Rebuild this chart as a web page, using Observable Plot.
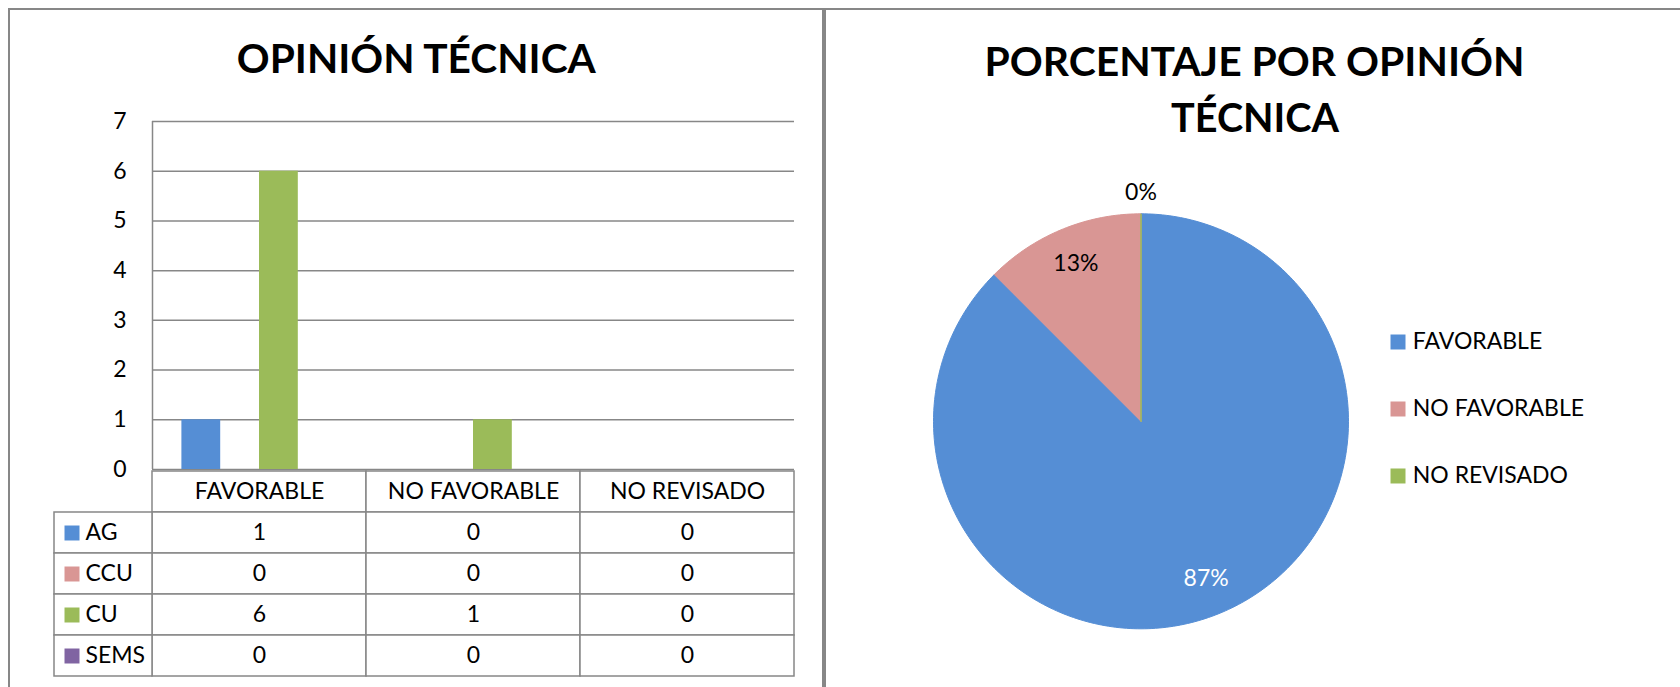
<!DOCTYPE html>
<html><head><meta charset="utf-8">
<script src="https://cdn.jsdelivr.net/npm/d3@7"></script>
<script src="https://cdn.jsdelivr.net/npm/@observablehq/plot@0.6"></script>
<style>
html,body{margin:0;padding:0;background:#fff;}
#root{position:relative;width:1680px;height:687px;overflow:hidden;background:#fff;font-family:Lato,"Open Sans",sans-serif;}
.abs{position:absolute;}
.abs svg{display:block;overflow:visible;max-width:none;}
.panel{position:absolute;border-color:#878787;border-style:solid;box-sizing:border-box;}
</style></head><body><div id="root"></div>
<script>
// ---------- data ----------
const categories = ["FAVORABLE", "NO FAVORABLE", "NO REVISADO"];
const seriesNames = ["AG", "CCU", "CU", "SEMS"];
const seriesColors = ["#558ED5", "#D99694", "#9BBB59", "#8064A2"];
const valuesAG = [1, 0, 0];
const valuesCCU = [0, 0, 0];
const valuesCU = [6, 1, 0];
const valuesSEMS = [0, 0, 0];
const yTicks = [0, 1, 2, 3, 4, 5, 6, 7];
const pieLabels = ["FAVORABLE", "NO FAVORABLE", "NO REVISADO"];
const pieValues = [7, 1, 0];
const piePercentLabels = ["87%", "13%", "0%"];
const pieColors = ["#558ED5", "#D99694", "#9BBB59"];
const barTitle = "OPINIÓN TÉCNICA";
const pieTitleLines = ["PORCENTAJE POR OPINIÓN", "TÉCNICA"];

// ---------- layout ----------
const root = document.getElementById("root");
const lineColor = "#878787";
const FONT = "Lato, 'Open Sans', sans-serif";
const TXT = 23;
function place(node, left, top) {
  const d = document.createElement("div");
  d.className = "abs"; d.style.left = left + "px"; d.style.top = top + "px";
  d.appendChild(node); root.appendChild(d); return d;
}
// panel frames
const lp = document.createElement("div"); lp.className = "panel";
Object.assign(lp.style, {left: "8px", top: "8px", width: "816px", height: "700px", borderWidth: "2px 2px 0 2px"});
root.appendChild(lp);
const rp = document.createElement("div"); rp.className = "panel";
Object.assign(rp.style, {left: "824px", top: "8px", width: "900px", height: "700px", borderWidth: "2px 0 0 2px"});
root.appendChild(rp);

// ---------- bar chart ----------
const seriesValues = [valuesAG, valuesCCU, valuesCU, valuesSEMS];
const rows = seriesNames.flatMap((s, i) => categories.map((c, j) => ({series: s, cat: c, value: seriesValues[i][j]})));
const plotL = 152, plotR = 794, plotT = 121, plotB = 469;
const band = (plotR - plotL) / categories.length;
const pad = 29.4;
const bw = (band - 2 * pad) / seriesNames.length;
const barPlot = Plot.plot({
  width: 830, height: plotB + 1,
  marginLeft: plotL, marginRight: 830 - plotR, marginTop: plotT, marginBottom: 1,
  style: {background: "transparent", fontFamily: FONT, fontSize: "23px", color: "#000", overflow: "visible"},
  x: {domain: categories, padding: 0, axis: null},
  y: {domain: [0, 7], ticks: yTicks, tickSize: 0, tickPadding: 26, label: null, tickFormat: d => String(d)},
  marks: [
    Plot.ruleY(yTicks, {stroke: lineColor, strokeWidth: 1.5}),
    ...seriesNames.map((s, i) => Plot.barY(rows.filter(d => d.series === s), {
      x: "cat", y: "value", fill: seriesColors[i],
      insetLeft: pad + i * bw, insetRight: band - pad - (i + 1) * bw
    })),
    Plot.ruleX([categories[0]], {x: d => d, dx: -band / 2, stroke: lineColor, strokeWidth: 1.5})
  ]
});
place(barPlot, 0, 0);

// ---------- data table ----------
const rowH = 41.7;
const tableData = [
  ...categories.map(c => ({cat: c, row: "header", text: c})),
  ...rows.map(d => ({cat: d.cat, row: d.series, text: String(d.value)}))
];
const tablePlot = Plot.plot({
  width: (plotR - plotL) + 4, height: 5 * rowH + 4, margin: 2,
  style: {background: "transparent", fontFamily: FONT, fontSize: TXT + "px", color: "#000", overflow: "visible"},
  x: {type: "band", domain: categories, padding: 0, axis: null},
  y: {type: "band", domain: ["header", ...seriesNames], padding: 0, axis: null},
  marks: [
    Plot.cell(tableData, {x: "cat", y: "row", fill: "white", stroke: lineColor, strokeWidth: 1.5}),
    Plot.text(tableData, {x: "cat", y: "row", text: "text", fill: "#000", fontSize: TXT})
  ]
});
place(tablePlot, plotL - 2, plotB - 2);

// legend column of the table
const legendColPlot = Plot.plot({
  width: (plotL - 54) + 4, height: 4 * rowH + 4, margin: 2,
  style: {background: "transparent", fontFamily: FONT, fontSize: TXT + "px", color: "#000", overflow: "visible"},
  y: {type: "band", domain: seriesNames, padding: 0, axis: null},
  color: {domain: seriesNames, range: seriesColors},
  marks: [
    Plot.cell(seriesNames, {y: d => d, fill: "white", stroke: lineColor, strokeWidth: 1.5}),
    Plot.dot(seriesNames, {y: d => d, frameAnchor: "left", dx: 17.5, symbol: "square", r: 8.46, fill: d => d, stroke: "none"}),
    Plot.text(seriesNames, {y: d => d, frameAnchor: "left", dx: 31, textAnchor: "start", text: d => d, fill: "#000", fontSize: TXT})
  ]
});
place(legendColPlot, 52, plotB + rowH - 2);

// ---------- pie ----------
const pieData = pieLabels.map((l, i) => ({label: l, value: pieValues[i]}));
const arcs = d3.pie().sort(null).value(d => d.value)(pieData);
const slicePts = arcs.flatMap(a => {
  const n = Math.max(2, Math.ceil((a.endAngle - a.startAngle) / (Math.PI / 180)));
  const pts = [{label: a.data.label, x: 0, y: 0}];
  for (let k = 0; k <= n; k++) {
    const t = a.startAngle + (a.endAngle - a.startAngle) * k / n;
    pts.push({label: a.data.label, x: Math.sin(t), y: Math.cos(t)});
  }
  pts.push({label: a.data.label, x: 0, y: 0});
  return pts;
});
const pieLabelData = arcs.map((a, i) => {
  const mid = (a.startAngle + a.endAngle) / 2;
  const inside = a.value > 0;
  const r = inside ? 0.82 : 1.10;
  const col = pieColors[i];
  return {x: r * Math.sin(mid), y: r * Math.cos(mid), text: piePercentLabels[i],
          color: inside && d3.hsl(col).l < 0.65 ? "#fff" : "#000"};
});
const pieW = 854, pieH = 677, cx = 1140.5 - 826, cy = 420.8 - 10, R = 207.5;
const piePlot = Plot.plot({
  width: pieW, height: pieH, margin: 0,
  style: {background: "transparent", fontFamily: FONT, fontSize: TXT + "px", color: "#000", overflow: "visible"},
  x: {domain: [-1, 1], range: [cx - R, cx + R], axis: null},
  y: {domain: [-1, 1], range: [cy + R, cy - R], axis: null},
  color: {domain: pieLabels, range: pieColors},
  marks: [
    Plot.line(slicePts, {x: "x", y: "y", z: "label", fill: "label", stroke: "label", strokeWidth: 1, curve: "linear"}),
    Plot.text(pieLabelData, {x: "x", y: "y", text: "text", fill: "color", fontSize: TXT})
  ]
});
place(piePlot, 826, 10);

// pie legend
const legRow = 67.9;
const pieLegend = Plot.plot({
  width: 220, height: 3 * legRow, margin: 0,
  style: {background: "transparent", fontFamily: FONT, fontSize: TXT + "px", color: "#000", overflow: "visible"},
  y: {type: "band", domain: pieLabels, padding: 0, axis: null},
  color: {domain: pieLabels, range: pieColors},
  marks: [
    Plot.dot(pieLabels, {y: d => d, frameAnchor: "left", dx: 7.5, symbol: "square", r: 8.46, fill: d => d, stroke: "none"}),
    Plot.text(pieLabels, {y: d => d, frameAnchor: "left", dx: 22.3, textAnchor: "start", text: d => d, fill: "#000", fontSize: TXT})
  ]
});
place(pieLegend, 1390, 340.7 - 0.5 * legRow);

// ---------- titles ----------
const overlay = d3.select(root).append("svg")
  .attr("width", 1680).attr("height", 687)
  .style("position", "absolute").style("left", "0px").style("top", "0px").style("pointer-events", "none");
function title(text, cxT, baseline, size, len) {
  overlay.append("text").attr("x", cxT).attr("y", baseline).attr("text-anchor", "middle")
    .attr("font-family", FONT).attr("font-weight", 700).attr("font-size", size)
    .attr("textLength", len).attr("lengthAdjust", "spacingAndGlyphs").attr("fill", "#000").text(text);
}
title(barTitle, 416.3, 72.7, 40, 359);
title(pieTitleLines[0], 1254.5, 75.5, 41, 540);
title(pieTitleLines[1], 1255, 132, 41, 168);
</script></body></html>
